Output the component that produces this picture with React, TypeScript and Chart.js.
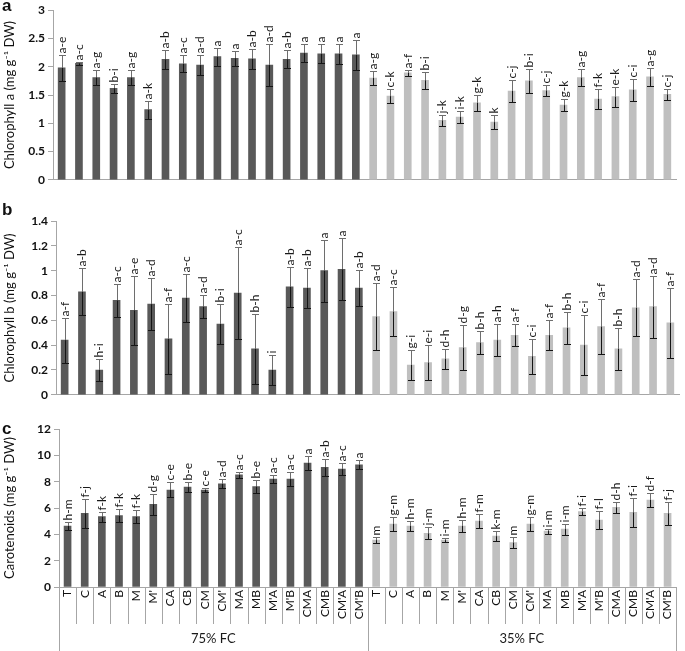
import React, { useEffect, useRef } from 'react';
import { Chart, registerables } from 'chart.js';

Chart.register(...registerables);

const treatments = ['T', 'C', 'A', 'B', 'M', "M'", 'CA', 'CB', 'CM', "CM'", 'MA', 'MB', "M'A", "M'B", 'CMA', 'CMB', "CM'A", "CM'B"];
const groupLabels = ['75% FC', '35% FC'];

// Panel a: Chlorophyll a
const chlA75 = [1.98, 2.06, 1.81, 1.62, 1.81, 1.24, 2.13, 2.05, 2.03, 2.18, 2.15, 2.14, 2.03, 2.13, 2.24, 2.23, 2.23, 2.21];
const chlA75Err = [0.23, 0.03, 0.14, 0.08, 0.14, 0.16, 0.17, 0.15, 0.18, 0.16, 0.13, 0.18, 0.37, 0.16, 0.16, 0.17, 0.18, 0.26];
const chlA75Sig = ['a-e', 'a-c', 'a-g', 'b-i', 'a-g', 'a-k', 'a-b', 'a-c', 'a-d', 'a', 'a', 'a-b', 'a-d', 'a-b', 'a', 'a', 'a', 'a'];
const chlA35 = [1.80, 1.48, 1.89, 1.76, 1.05, 1.11, 1.36, 1.02, 1.57, 1.75, 1.58, 1.32, 1.81, 1.43, 1.47, 1.59, 1.82, 1.51];
const chlA35Err = [0.13, 0.13, 0.05, 0.15, 0.09, 0.11, 0.14, 0.13, 0.19, 0.21, 0.09, 0.11, 0.15, 0.18, 0.18, 0.2, 0.16, 0.09];
const chlA35Sig = ['a-g', 'c-k', 'a-f', 'b-i', 'j-k', 'i-k', 'g-k', 'k', 'c-j', 'b-i', 'c-j', 'g-k', 'a-g', 'f-k', 'e-k', 'c-i', 'a-g', 'c-j'];

// Panel b: Chlorophyll b
const chlB75 = [0.44, 0.83, 0.20, 0.76, 0.68, 0.73, 0.45, 0.78, 0.71, 0.57, 0.82, 0.37, 0.20, 0.87, 0.86, 1.00, 1.01, 0.86];
const chlB75Err = [0.18, 0.19, 0.09, 0.13, 0.28, 0.21, 0.28, 0.19, 0.09, 0.16, 0.37, 0.28, 0.12, 0.16, 0.16, 0.25, 0.25, 0.145];
const chlB75Sig = ['a-f', 'a-b', 'h-i', 'a-c', 'a-e', 'a-d', 'a-f', 'a-c', 'a-d', 'b-i', 'a-c', 'b-h', 'i', 'a-b', 'a-b', 'a', 'a', 'a-b'];
const chlB35 = [0.63, 0.67, 0.24, 0.26, 0.29, 0.38, 0.42, 0.44, 0.48, 0.31, 0.48, 0.54, 0.40, 0.55, 0.37, 0.70, 0.71, 0.58];
const chlB35Err = [0.27, 0.2, 0.12, 0.14, 0.08, 0.18, 0.09, 0.13, 0.09, 0.14, 0.12, 0.13, 0.24, 0.22, 0.17, 0.23, 0.25, 0.28];
const chlB35Sig = ['a-d', 'a-c', 'g-i', 'e-i', 'd-h', 'd-g', 'b-h', 'a-h', 'a-f', 'c-i', 'a-f', 'b-h', 'c-i', 'a-f', 'b-h', 'a-d', 'a-d', 'a-f'];

// Panel c: Carotenoids
const car75 = [4.63, 5.59, 5.34, 5.42, 5.34, 6.28, 7.37, 7.58, 7.37, 7.83, 8.52, 7.63, 8.19, 8.19, 9.41, 9.08, 8.95, 9.28];
const car75Err = [0.32, 1.09, 0.37, 0.48, 0.51, 0.8, 0.57, 0.38, 0.18, 0.34, 0.25, 0.46, 0.32, 0.51, 0.51, 0.62, 0.47, 0.33];
const car75Sig = ['h-m', 'f-j', 'f-k', 'f-k', 'f-k', 'd-g', 'c-e', 'b-e', 'c-e', 'a-d', 'a-c', 'b-e', 'a-c', 'a-c', 'a', 'a-b', 'a-c', 'a'];
const car35 = [3.56, 4.78, 4.63, 4.07, 3.56, 4.63, 5.01, 3.86, 3.38, 4.78, 4.25, 4.40, 5.72, 5.09, 6.05, 5.67, 6.61, 5.59];
const car35Err = [0.25, 0.52, 0.38, 0.45, 0.15, 0.45, 0.51, 0.38, 0.42, 0.54, 0.19, 0.42, 0.25, 0.7, 0.4, 1.1, 0.56, 0.86];
const car35Sig = ['m', 'g-m', 'h-m', 'j-m', 'i-m', 'h-m', 'f-m', 'k-m', 'm', 'g-m', 'i-m', 'i-m', 'f-i', 'f-l', 'd-h', 'f-i', 'd-f', 'f-j'];

const DARK = '#595959';
const LIGHT = '#bfbfbf';
const AXIS = '#a6a6a6';
const FONT = 'Lato, "Liberation Sans", Arial, sans-serif';

const errorPlugin = {
  id: 'errLetters',
  afterDatasetsDraw(chart: any, _args: any, opts: any) {
    const ctx = chart.ctx;
    const y = chart.scales.y;
    const meta = chart.getDatasetMeta(0);
    const data = chart.data.datasets[0].data as number[];
    ctx.save();
    meta.data.forEach((bar: any, i: number) => {
      const v = data[i];
      const e = opts.errors[i];
      const x = Math.round(bar.x) + 0.5;
      const yv = y.getPixelForValue(v);
      const yt = Math.round(y.getPixelForValue(v + e)) + 0.5;
      const yb = Math.round(y.getPixelForValue(v - e)) + 0.5;
      const cap = 3.5;
      ctx.lineWidth = 1;
      ctx.strokeStyle = '#6e6e6e';
      ctx.beginPath();
      ctx.moveTo(x, yt);
      ctx.lineTo(x, yv);
      ctx.moveTo(x - cap, yt);
      ctx.lineTo(x + cap, yt);
      ctx.stroke();
      ctx.strokeStyle = '#151515';
      ctx.beginPath();
      ctx.moveTo(x, yv);
      ctx.lineTo(x, yb);
      ctx.moveTo(x - cap, yb);
      ctx.lineTo(x + cap, yb);
      ctx.stroke();
      ctx.save();
      ctx.translate(x, yt - 2);
      ctx.rotate(-Math.PI / 2);
      ctx.font = '12px ' + FONT;
      ctx.fillStyle = '#1a1a1a';
      ctx.textAlign = 'left';
      ctx.textBaseline = 'middle';
      ctx.fillText(opts.letters[i], 0, 0);
      ctx.restore();
    });
    ctx.restore();
  },
};

const groupPlugin = {
  id: 'groupAxis',
  afterDraw(chart: any, _args: any, opts: any) {
    if (!opts || !opts.enabled) return;
    const ctx = chart.ctx;
    const xs = chart.scales.x;
    const n = chart.data.labels.length;
    const step = xs.getPixelForTick(1) - xs.getPixelForTick(0);
    const bounds: number[] = [];
    for (let i = 0; i <= n; i++) bounds.push(xs.getPixelForTick(0) - step / 2 + i * step);
    ctx.save();
    ctx.strokeStyle = AXIS;
    ctx.lineWidth = 1;
    bounds.forEach((bx, i) => {
      const xx = Math.round(bx) + 0.5;
      const long = i % (n / 2) === 0;
      ctx.beginPath();
      ctx.moveTo(xx, xs.top);
      ctx.lineTo(xx, long ? chart.height : xs.top + 37);
      ctx.stroke();
    });
    ctx.font = '13px ' + FONT;
    ctx.fillStyle = '#1a1a1a';
    ctx.textAlign = 'center';
    ctx.textBaseline = 'middle';
    const half = n / 2;
    opts.labels.forEach((lab: string, g: number) => {
      const cx = (bounds[g * half] + bounds[(g + 1) * half]) / 2;
      ctx.fillText(lab, cx, xs.top + 52);
    });
    ctx.restore();
  },
};

type PanelProps = {
  top: number;
  height: number;
  yMax: number;
  yStep: number;
  title: string;
  v75: number[];
  e75: number[];
  s75: string[];
  v35: number[];
  e35: number[];
  s35: string[];
  axisWidth: number;
  padRight: number;
  padTop: number;
  padBottom: number;
  xHeight: number;
  showCategories: boolean;
};

function Panel(p: PanelProps) {
  const ref = useRef<HTMLCanvasElement>(null);
  useEffect(() => {
    const values = [...p.v75, ...p.v35];
    const chart = new Chart(ref.current as HTMLCanvasElement, {
      type: 'bar',
      data: {
        labels: [...treatments, ...treatments],
        datasets: [
          {
            data: values,
            backgroundColor: values.map((_, i) => (i < p.v75.length ? DARK : LIGHT)),
            borderWidth: 0,
            barThickness: 7,
          },
        ],
      },
      options: {
        animation: false,
        responsive: false,
        devicePixelRatio: 1,
        layout: { padding: { left: 0, right: p.padRight, top: p.padTop, bottom: p.padBottom } },
        plugins: {
          legend: { display: false },
          tooltip: { enabled: false },
          errLetters: { errors: [...p.e75, ...p.e35], letters: [...p.s75, ...p.s35] },
          groupAxis: { enabled: p.showCategories, labels: groupLabels },
        } as any,
        scales: {
          x: {
            grid: { display: false, drawTicks: false },
            border: { display: true, color: AXIS },
            ticks: {
              display: p.showCategories,
              autoSkip: false,
              minRotation: 90,
              maxRotation: 90,
              padding: 3,
              color: '#111',
              font: { family: FONT, size: 12 },
            },
            afterFit: (s: any) => {
              s.height = p.xHeight;
            },
          },
          y: {
            min: 0,
            max: p.yMax,
            grid: { drawOnChartArea: false, drawTicks: true, tickLength: 5, color: AXIS },
            border: { display: true, color: AXIS },
            ticks: {
              stepSize: p.yStep,
              padding: 3,
              color: '#111',
              font: { family: FONT, size: 12, weight: 'bold' },
              callback: (v: any) => String(Math.round(Number(v) * 10) / 10),
            },
            title: {
              display: true,
              text: p.title,
              color: '#111',
              font: { family: FONT, size: 13 },
              padding: { top: 2, bottom: 0 },
            },
            afterFit: (s: any) => {
              s.width = p.axisWidth;
            },
          },
        },
      },
      plugins: [errorPlugin, groupPlugin],
    });
    return () => chart.destroy();
  }, []);
  return (
    <canvas
      ref={ref}
      width={685}
      height={p.height}
      style={{ position: 'absolute', left: 0, top: p.top, width: 685, height: p.height }}
    />
  );
}

const labelStyle = (top: number): React.CSSProperties => ({
  position: 'absolute',
  left: 2,
  top,
  font: 'bold 17px "Liberation Sans", Arial, sans-serif',
  color: '#111',
  lineHeight: '17px',
});

export default function App() {
  return (
    <div style={{ position: 'absolute', left: 0, top: 0, width: 685, height: 651, background: '#fff', overflow: 'hidden' }}>
      <Panel
        top={0}
        height={190}
        yMax={3}
        yStep={0.5}
        title={'Chlorophyll a (mg g\u207B\u00B9 DW)'}
        v75={chlA75}
        e75={chlA75Err}
        s75={chlA75Sig}
        v35={chlA35}
        e35={chlA35Err}
        s35={chlA35Sig}
        axisWidth={53}
        padRight={9}
        padTop={6}
        padBottom={8}
        xHeight={0}
        showCategories={false}
      />
      <Panel
        top={195}
        height={210}
        yMax={1.4}
        yStep={0.2}
        title={'Chlorophyll b (mg g\u207B\u00B9 DW)'}
        v75={chlB75}
        e75={chlB75Err}
        s75={chlB75Sig}
        v35={chlB35}
        e35={chlB35Err}
        s35={chlB35Sig}
        axisWidth={56}
        padRight={6}
        padTop={26}
        padBottom={8}
        xHeight={0}
        showCategories={false}
      />
      <Panel
        top={415}
        height={236}
        yMax={12}
        yStep={2}
        title={'Carotenoids (mg g\u207B\u00B9 DW)'}
        v75={car75}
        e75={car75Err}
        s75={car75Sig}
        v35={car35}
        e35={car35Err}
        s35={car35Sig}
        axisWidth={59}
        padRight={2}
        padTop={14}
        padBottom={0}
        xHeight={64}
        showCategories={true}
      />
      <div style={labelStyle(-3)}>a</div>
      <div style={labelStyle(201)}>b</div>
      <div style={labelStyle(420)}>c</div>
    </div>
  );
}
